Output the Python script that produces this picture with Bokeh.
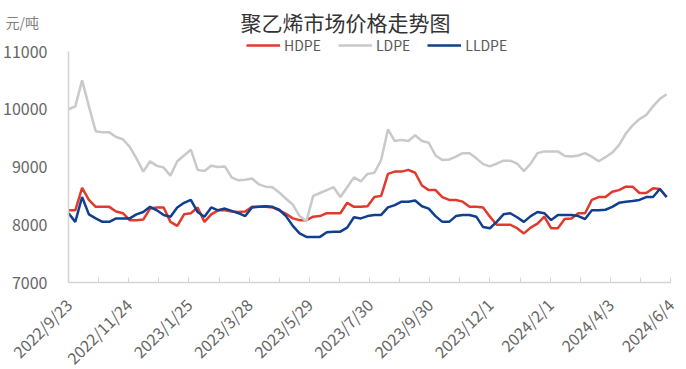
from datetime import date
from bokeh.plotting import figure
from bokeh.models import (FixedTicker, Legend, LegendItem, Label, ColumnDataSource)
from bokeh.embed import file_html
from bokeh.resources import INLINE

# ---- data (weekly samples) ----
start_date = date(2022, 9, 23)
step_days = 7

hdpe = [8250, 8250, 8640, 8430, 8310, 8310, 8310, 8230, 8200, 8080,
        8080, 8090, 8280, 8300, 8300, 8050, 7980, 8180, 8200, 8300,
        8050, 8180, 8250, 8250, 8230, 8220, 8230, 8310, 8310, 8310,
        8300, 8250, 8190, 8110, 8080, 8080, 8140, 8150, 8200, 8200,
        8200, 8380, 8310, 8310, 8320, 8480, 8500, 8880, 8920, 8920,
        8950, 8900, 8680, 8600, 8600, 8480, 8430, 8430, 8400, 8310,
        8310, 8300, 8140, 8000, 8000, 8000, 7940, 7850, 7950, 8020,
        8140, 7940, 7940, 8100, 8110, 8200, 8200, 8430, 8480, 8480,
        8570, 8600, 8660, 8660, 8550, 8550, 8630, 8620, 8480]

ldpe = [10000, 10050, 10500, 10050, 9620, 9600, 9600, 9520, 9480, 9350,
        9150, 8920, 9100, 9020, 8990, 8850, 9100, 9200, 9300, 8950,
        8930, 9020, 9000, 9010, 8820, 8770, 8780, 8800, 8700, 8660,
        8650, 8560, 8450, 8350, 8150, 8060, 8500, 8550, 8600, 8650,
        8480, 8650, 8820, 8750, 8880, 8900, 9120, 9650, 9450, 9470,
        9450, 9550, 9450, 9420, 9200, 9120, 9130, 9180, 9240, 9240,
        9150, 9050, 9010, 9060, 9110, 9110, 9060, 8930, 9060, 9240,
        9270, 9270, 9270, 9190, 9180, 9200, 9240, 9180, 9100, 9170,
        9250, 9380, 9580, 9720, 9830, 9900, 10050, 10180, 10260]

lldpe = [8200, 8050, 8480, 8180, 8110, 8050, 8050, 8110, 8110, 8110,
         8180, 8220, 8310, 8250, 8170, 8140, 8300, 8380, 8430, 8220,
         8140, 8300, 8250, 8280, 8240, 8200, 8150, 8300, 8310, 8320,
         8310, 8260, 8150, 7980, 7850, 7790, 7790, 7790, 7870, 7880,
         7880, 7950, 8130, 8110, 8150, 8170, 8170, 8300, 8340, 8400,
         8400, 8420, 8320, 8280, 8150, 8050, 8050, 8150, 8170, 8170,
         8140, 7960, 7940, 8050, 8180, 8200, 8130, 8050, 8150, 8220,
         8200, 8080, 8170, 8170, 8170, 8150, 8100, 8250, 8250, 8260,
         8310, 8380, 8400, 8410, 8430, 8480, 8480, 8620, 8480]

tick_labels = ["2022/9/23", "2022/11/24", "2023/1/25", "2023/3/28", "2023/5/29",
               "2023/7/30", "2023/9/30", "2023/12/1", "2024/2/1", "2024/4/3", "2024/6/4"]
y_ticks = [7000, 8000, 9000, 10000, 11000]
series_names = ["HDPE", "LDPE", "LLDPE"]
series_colors = ["#e2392d", "#c9c9c9", "#0f3f8e"]

# ---- build ----
def day_of(label):
    y, m, d = (int(v) for v in label.split("/"))
    return (date(y, m, d) - start_date).days

tick_days = [day_of(t) for t in tick_labels]
minor_days = [(a + b) / 2 for a, b in zip(tick_days[:-1], tick_days[1:])]
xs = [i * step_days for i in range(len(hdpe))]

FONT = "Noto Sans CJK SC"

# canvas layout (pixels): the frame covers the whole canvas, axes drawn at fixed data locations
W, H = 686, 369
AX_LEFT, AX_RIGHT = 68, 670      # canvas x of first / last day
AX_TOP, AX_BOTTOM = 51, 282      # canvas y of top / bottom y tick
px_per_day = (AX_RIGHT - AX_LEFT) / (tick_days[-1] - tick_days[0])
x_start = tick_days[0] - AX_LEFT / px_per_day
x_end = tick_days[-1] + (W - AX_RIGHT) / px_per_day
units_per_px = (y_ticks[-1] - y_ticks[0]) / (AX_BOTTOM - AX_TOP)
y_end = y_ticks[-1] + AX_TOP * units_per_px
y_start = y_ticks[0] - (H - AX_BOTTOM) * units_per_px

p = figure(width=W, height=H, output_backend="svg", toolbar_location=None,
           x_range=(x_start, x_end), y_range=(y_start, y_end),
           min_border=0)
p.outline_line_color = None
p.xgrid.grid_line_color = None
p.ygrid.grid_line_color = None
p.background_fill_color = "white"

renderers = []
for name, vals, col in zip(series_names, [hdpe, ldpe, lldpe], series_colors):
    src = ColumnDataSource(dict(x=xs, y=vals))
    r = p.line("x", "y", source=src, line_color=col, line_width=2.5)
    renderers.append(r)

AXIS_COL = "#d4d4d4"
LABEL_COL = "#666666"

# y axis drawn at the first day
p.yaxis.fixed_location = tick_days[0]
p.yaxis.bounds = (y_ticks[0], y_ticks[-1])
p.yaxis.ticker = FixedTicker(ticks=y_ticks)
p.yaxis.major_tick_line_color = None
p.yaxis.minor_tick_line_color = None
p.yaxis.axis_line_color = AXIS_COL
p.yaxis.axis_line_width = 1.5
p.yaxis.major_label_text_font = FONT
p.yaxis.major_label_text_font_size = "16px"
p.yaxis.major_label_text_color = LABEL_COL
p.yaxis.major_label_standoff = 15

# x axis drawn at the lowest y tick
p.xaxis.fixed_location = y_ticks[0]
p.xaxis.bounds = (tick_days[0], tick_days[-1])
p.xaxis.ticker = FixedTicker(ticks=tick_days, minor_ticks=minor_days)
p.xaxis.major_label_overrides = {d: t for d, t in zip(tick_days, tick_labels)}
p.xaxis.major_label_orientation = 0.785
p.xaxis.axis_line_color = AXIS_COL
p.xaxis.axis_line_width = 1.5
p.xaxis.major_tick_line_color = AXIS_COL
p.xaxis.minor_tick_line_color = AXIS_COL
p.xaxis.major_tick_in = 5
p.xaxis.major_tick_out = 0
p.xaxis.minor_tick_in = 5
p.xaxis.minor_tick_out = 0
p.xaxis.major_label_text_font = FONT
p.xaxis.major_label_text_font_size = "16px"
p.xaxis.major_label_text_color = LABEL_COL
p.xaxis.major_label_standoff = 19

# legend
legend = Legend(items=[LegendItem(label=n, renderers=[r]) for n, r in zip(series_names, renderers)],
                orientation="horizontal", location=(246, H - 55),
                border_line_color=None, background_fill_alpha=0,
                label_text_font=FONT, label_text_font_size="14px", label_text_color="#595959",
                glyph_width=34, glyph_height=16, label_height=16, label_standoff=4,
                spacing=17, padding=0, margin=0)
p.add_layout(legend, "center")

p.add_layout(Label(x=345, y=H - 21, x_units="screen", y_units="screen",
                   text="聚乙烯市场价格走势图",
                   text_font=FONT, text_font_size="21px", text_color="#333333",
                   text_align="center", text_baseline="middle"))
p.add_layout(Label(x=5, y=H - 21, x_units="screen", y_units="screen", text="元/吨",
                   text_font=FONT, text_font_size="14px", text_color="#808080",
                   text_align="left", text_baseline="middle"))

open("out.html", "w").write(file_html(p, INLINE))
